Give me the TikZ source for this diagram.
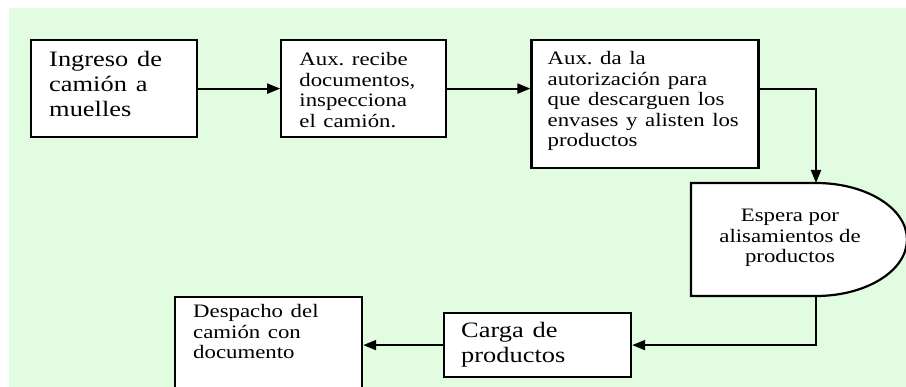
\documentclass[tikz,border=0pt]{standalone}
\usepackage{fontspec}
\setmainfont{Liberation Serif}
\usetikzlibrary{positioning,arrows.meta,calc}

\definecolor{fondo}{RGB}{226,252,226}
\frenchspacing

\begin{document}
\begin{tikzpicture}[x=1pt,y=1pt]
\tikzstyle{box}=[draw, fill=white, line width=2.2pt, inner sep=0pt, anchor=north west]
\tikzstyle{txt}=[anchor=base west, inner sep=0pt, align=left, text width=170pt, xscale=1.2, transform shape, font=\fontsize{19}{20.5}\selectfont]
\tikzstyle{txtbig}=[txt, font=\fontsize{22}{25}\selectfont]
\tikzstyle{flecha}=[line width=2pt, -{Triangle[length=13pt,width=10pt]}]

\clip (0,0) rectangle (906,-387);
\fill[fondo] (9,-8) rectangle (906,-387);

% fila de arriba
\node[box, minimum width=166pt, minimum height=97pt] (ingreso) at (30,-39) {};
\node[box, minimum width=165pt, minimum height=97pt, right=82pt of ingreso.north east, anchor=north west] (recibe) {};
\node[box, minimum width=227pt, minimum height=128pt, right=83pt of recibe.north east, anchor=north west] (autoriza) {};

% espera (retraso)
\coordinate (esperaN) at (816,-183);
\coordinate (esperaS) at (816,-296);
\draw[fill=white, line width=2.2pt] (691,-183) -- (esperaN) arc[start angle=90, end angle=-90, x radius=91, y radius=56.5] -- (691,-296) -- cycle;
\node[inner sep=0pt, align=center, xscale=1.2, transform shape, font=\fontsize{19}{20.8}\selectfont] (espera) at (790,-238) {Espera por\\alisamientos de\\productos};

% fila de abajo
\node[box, minimum width=187pt, minimum height=64pt] (carga) at (443,-312) {};
\node[box, minimum width=187pt, minimum height=120pt] (despacho) at (174,-296) {};

% textos
\node[txtbig] at ([xshift=19pt,yshift=-28pt]ingreso.north west) {Ingreso de\\camión a\\muelles};
\node[txt] at ([xshift=19pt,yshift=-27pt]recibe.north west) {Aux. recibe\\documentos,\\inspecciona\\el camión.};
\node[txt] at ([xshift=17pt,yshift=-26pt]autoriza.north west) {Aux. da la\\autorización para\\que descarguen los\\envases y alisten los\\productos};
\node[txtbig] at ([xshift=18pt,yshift=-26pt]carga.north west) {Carga de\\productos};
\node[txt] at ([xshift=19pt,yshift=-22pt]despacho.north west) {Despacho del\\camión con\\documento};

% conectores
\draw[flecha] (ingreso) -- (recibe);
\draw[flecha] (recibe.east) -- (recibe.east -| autoriza.west);
\draw[flecha] (recibe.east -| autoriza.east) -| (esperaN);
\draw[flecha] (esperaS) |- (carga.east);
\draw[flecha] (carga.west) -- (carga.west -| despacho.east);
\end{tikzpicture}
\end{document}
